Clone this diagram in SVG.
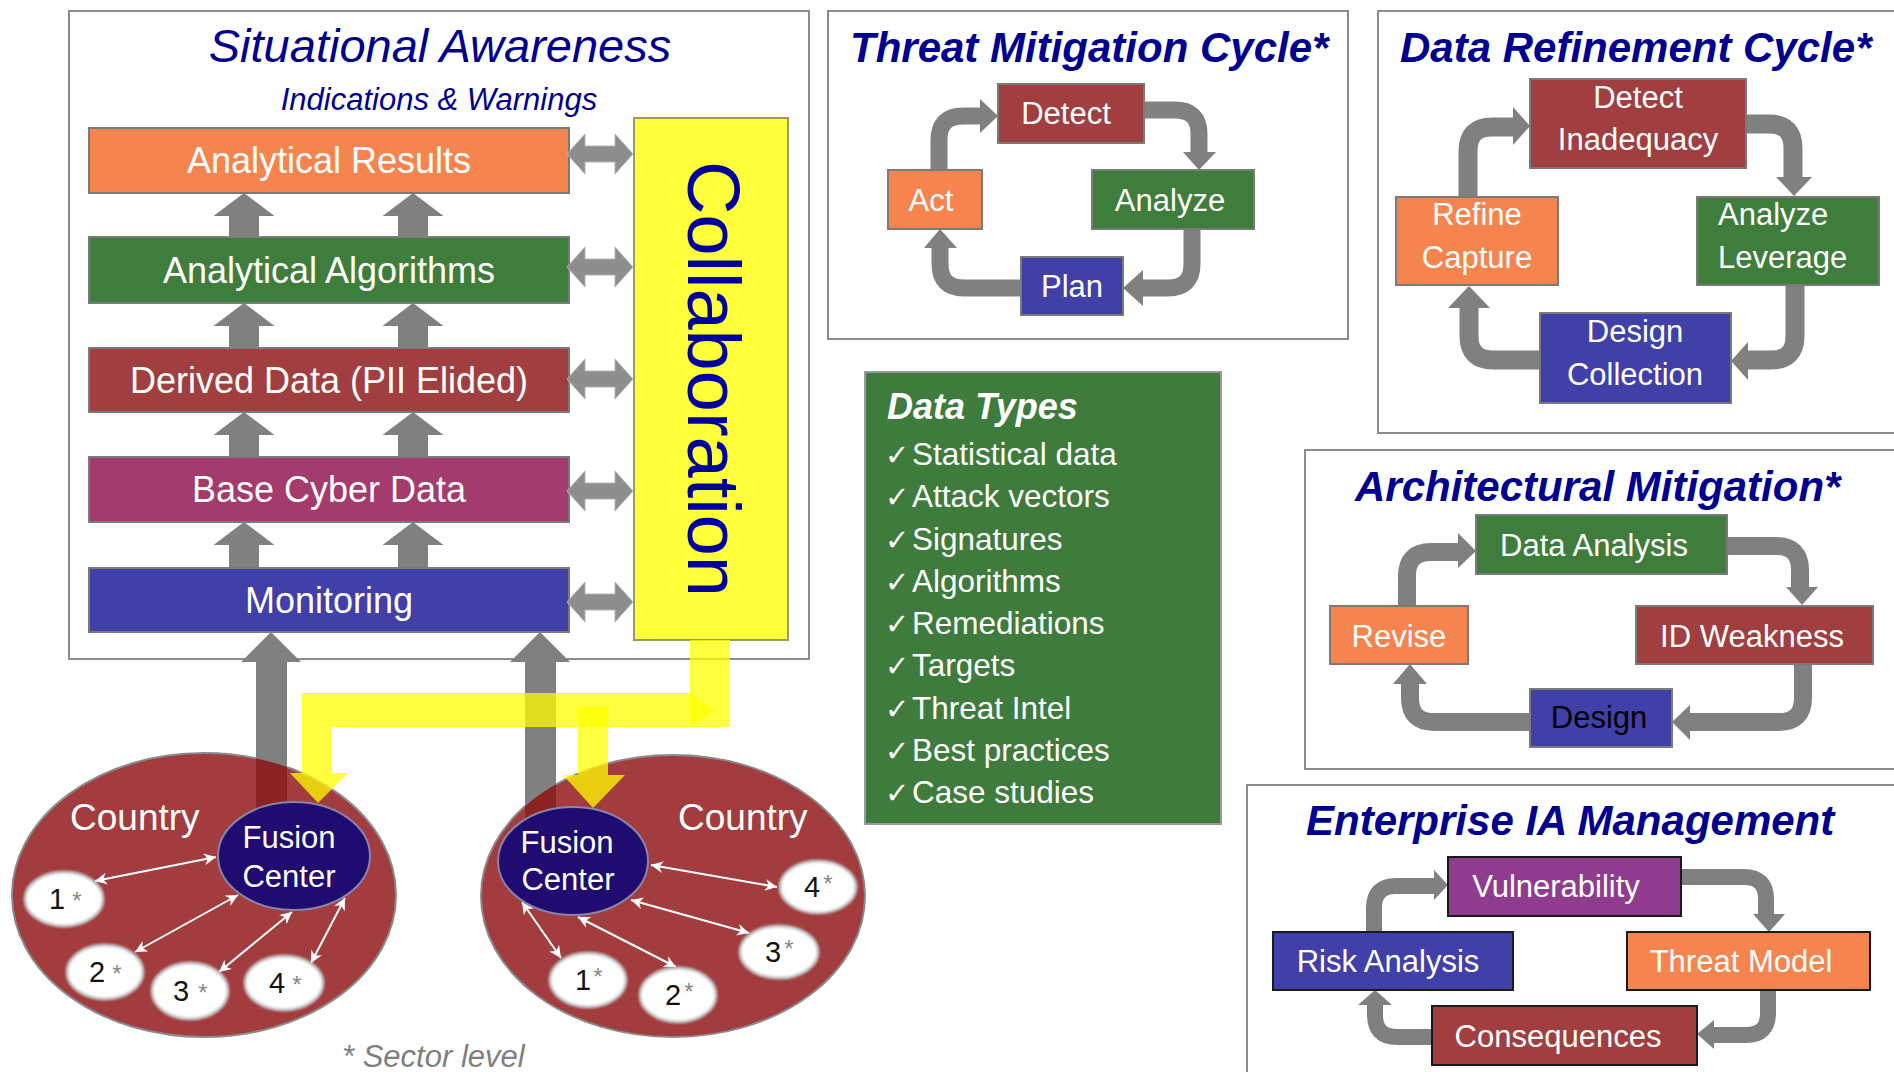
<svg xmlns="http://www.w3.org/2000/svg" width="1894" height="1072" viewBox="0 0 1894 1072">
<style>
text{font-family:"Liberation Sans",Arial,sans-serif}
.panel{fill:#fff;stroke:#8c8c8c;stroke-width:2}
.ttl{font-weight:bold;font-style:italic;font-size:42px;fill:#000090}
.box{stroke:#7a7a7a;stroke-width:2}
.bx2{stroke:#1a1a1a;stroke-width:2}
.lbl{fill:#fff;font-size:31px;text-anchor:middle}
.lbs{fill:#fff;font-size:31px;text-anchor:start}
.lyr{fill:#fff;font-size:36px;text-anchor:middle}
.or{fill:#F5844F}.gr{fill:#3F7D3C}.rd{fill:#A13F40}.mg{fill:#A33B6D}.bl{fill:#4040A8}.pu{fill:#8F3C8E}
.ca{fill:none;stroke:#808080;stroke-width:17}
.ah{fill:#808080}
.dbl{fill:#8e8e8e;stroke:#b4b4b4;stroke-width:1}
.wl{stroke:#fff;stroke-width:2;fill:none;marker-start:url(#wa);marker-end:url(#wa)}
.sn{fill:#fff;stroke:#c4c4c4;stroke-width:3}
.num{font-size:29px;fill:#111;text-anchor:middle}
.ast{font-size:24px;fill:#888;text-anchor:middle}
.yl{fill:#FFFF00;fill-opacity:0.75}
.dt{fill:#fff;font-size:31.5px}
.chk{font-family:"DejaVu Sans",sans-serif;font-size:29px}
.cty{fill:#fff;font-size:37px}
.fc{fill:#fff;font-size:31px;text-anchor:middle}
</style>
<defs>
<path id="ua" d="M0,0 L30.5,23 L15,23 L15,45 L-15,45 L-15,23 L-30.5,23 Z"/>
<path id="da" d="M0,0 L18,-20 L18,-8 L48,-8 L48,-20 L66,0 L48,20 L48,8 L18,8 L18,20 Z"/>
<marker id="wa" viewBox="0 0 10 10" refX="10" refY="5" markerWidth="6" markerHeight="6" orient="auto-start-reverse" markerUnits="strokeWidth">
<path d="M0,0 L10,5 L0,10 L3,5 Z" fill="#fff"/>
</marker>
<clipPath id="cL"><ellipse cx="204" cy="895" rx="192" ry="142"/></clipPath>
<clipPath id="cR"><ellipse cx="673" cy="896" rx="192" ry="141"/></clipPath>
<filter id="soft" x="-20%" y="-20%" width="140%" height="140%"><feGaussianBlur stdDeviation="1.2"/></filter>
</defs>

<!-- Situational Awareness panel -->
<g id="sa-panel">
<rect class="panel" x="69" y="11" width="740" height="648"/>
<text x="440" y="62" font-size="47" font-style="italic" fill="#000090" text-anchor="middle">Situational Awareness</text>
<text x="439" y="110" font-size="31" font-style="italic" fill="#000090" text-anchor="middle">Indications &amp; Warnings</text>
</g>
<g id="analytical-results"><rect class="box or" x="89" y="128" width="480" height="65"/><text class="lyr" x="329" y="173">Analytical Results</text></g>
<g id="analytical-algorithms"><rect class="box gr" x="89" y="237" width="480" height="66"/><text class="lyr" x="329" y="283">Analytical Algorithms</text></g>
<g id="derived-data"><rect class="box rd" x="89" y="348" width="480" height="64"/><text class="lyr" x="329" y="393">Derived Data (PII Elided)</text></g>
<g id="base-cyber-data"><rect class="box mg" x="89" y="457" width="480" height="65"/><text class="lyr" x="329" y="502">Base Cyber Data</text></g>
<g id="monitoring"><rect class="box bl" x="89" y="568" width="480" height="64"/><text class="lyr" x="329" y="613">Monitoring</text></g>
<g id="collaboration"><rect x="634" y="118" width="154" height="522" fill="#FFFF3C" stroke="#9a9a60" stroke-width="2"/>
<text transform="translate(688,379) rotate(90)" font-size="74" fill="#00009A" text-anchor="middle">Collaboration</text></g>

<g id="sa-connectors" fill="#808080">
<use href="#ua" x="244" y="193"/><use href="#ua" x="413" y="193"/>
<use href="#ua" x="244" y="303"/><use href="#ua" x="413" y="303"/>
<use href="#ua" x="244" y="412"/><use href="#ua" x="413" y="412"/>
<use href="#ua" x="244" y="522"/><use href="#ua" x="413" y="522"/>
<use class="dbl" href="#da" x="567" y="154"/>
<use class="dbl" href="#da" x="567" y="267"/>
<use class="dbl" href="#da" x="567" y="379"/>
<use class="dbl" href="#da" x="567" y="491"/>
<use class="dbl" href="#da" x="567" y="602"/>
</g>

<!-- Countries -->
<g id="country-left"><ellipse cx="204" cy="895" rx="192" ry="142" fill="#A23C3E" stroke="#8a8a8a" stroke-width="2"/></g>
<g id="country-right"><ellipse cx="673" cy="896" rx="192" ry="141" fill="#A23C3E" stroke="#8a8a8a" stroke-width="2"/></g>

<g id="country-connectors">
<path fill="#808080" d="M271,632 L301,662 L287,662 L287,830 L256,830 L256,662 L241,662 Z"/>
<path fill="#808080" d="M540,632 L570,662 L556,662 L556,830 L525,830 L525,662 L510,662 Z"/>
<rect x="256" y="700" width="31" height="130" fill="#8B2323" clip-path="url(#cL)"/>
<rect x="525" y="700" width="31" height="130" fill="#8B2323" clip-path="url(#cR)"/>
<rect class="yl" x="690" y="640" width="40" height="87"/>
<path class="yl" d="M302,693 H690 L715,710 L690,727 H332 V773 H348 L318,803 L290,773 H302 Z"/>
<path class="yl" d="M578,707 H608 V775 H625 L593,808 L563,775 H578 Z"/>
<line class="wl" x1="95" y1="881" x2="216" y2="857"/>
<line class="wl" x1="135" y1="952" x2="238" y2="895"/>
<line class="wl" x1="219" y1="972" x2="292" y2="912"/>
<line class="wl" x1="311" y1="963" x2="345" y2="898"/>
<line class="wl" x1="651" y1="865" x2="777" y2="887"/>
<line class="wl" x1="631" y1="900" x2="749" y2="933"/>
<line class="wl" x1="578" y1="917" x2="676" y2="967"/>
<line class="wl" x1="522" y1="902" x2="561" y2="958"/>
</g>

<g id="country-left-label"><text class="cty" x="70" y="830">Country</text></g>
<g id="country-right-label"><text class="cty" x="678" y="830">Country</text></g>
<g id="fusion-left"><ellipse cx="294" cy="856" rx="76" ry="54" fill="#200C70" stroke="#8a84a8" stroke-width="2"/>
<text class="fc" x="289" y="848">Fusion</text><text class="fc" x="289" y="887">Center</text></g>
<g id="fusion-right"><ellipse cx="573" cy="861" rx="75" ry="54" fill="#200C70" stroke="#8a84a8" stroke-width="2"/>
<text class="fc" x="567" y="853">Fusion</text><text class="fc" x="568" y="890">Center</text></g>

<g id="sector-l1"><ellipse class="sn" cx="64" cy="899" rx="39" ry="27" filter="url(#soft)"/><text class="num" x="57" y="909">1</text><text class="ast" x="77" y="909">*</text></g>
<g id="sector-l2"><ellipse class="sn" cx="105" cy="972" rx="38" ry="27" filter="url(#soft)"/><text class="num" x="97" y="982">2</text><text class="ast" x="117" y="982">*</text></g>
<g id="sector-l3"><ellipse class="sn" cx="190" cy="991" rx="38" ry="28" filter="url(#soft)"/><text class="num" x="181" y="1001">3</text><text class="ast" x="203" y="1001">*</text></g>
<g id="sector-l4"><ellipse class="sn" cx="284" cy="983" rx="39" ry="27" filter="url(#soft)"/><text class="num" x="277" y="993">4</text><text class="ast" x="297" y="993">*</text></g>
<g id="sector-r4"><ellipse class="sn" cx="818" cy="887" rx="38" ry="26" filter="url(#soft)"/><text class="num" x="812" y="897">4</text><text class="ast" x="828" y="892">*</text></g>
<g id="sector-r3"><ellipse class="sn" cx="779" cy="952" rx="39" ry="26" filter="url(#soft)"/><text class="num" x="773" y="962">3</text><text class="ast" x="789" y="957">*</text></g>
<g id="sector-r1"><ellipse class="sn" cx="588" cy="980" rx="38" ry="27" filter="url(#soft)"/><text class="num" x="583" y="990">1</text><text class="ast" x="598" y="985">*</text></g>
<g id="sector-r2"><ellipse class="sn" cx="678" cy="995" rx="38" ry="27" filter="url(#soft)"/><text class="num" x="673" y="1005">2</text><text class="ast" x="689" y="1000">*</text></g>
<text x="342" y="1067" font-size="31" font-style="italic" fill="#7f7f7f">* Sector level</text>

<!-- Threat Mitigation Cycle -->
<g id="tmc-panel"><rect class="panel" x="828" y="11" width="520" height="328"/>
<text class="ttl" x="850" y="62">Threat Mitigation Cycle*</text></g>
<g id="tmc-connectors">
<path class="ca" d="M939,170 V140 Q939,116 963,116 H981"/><path class="ah" d="M980,99 L998,116 L980,133 Z"/>
<path class="ca" d="M1144,110 H1175 Q1199,110 1199,134 V153"/><path class="ah" d="M1183,152 L1216,152 L1199,170 Z"/>
<path class="ca" d="M1192,229 V264 Q1192,288 1168,288 H1142"/><path class="ah" d="M1143,270 L1143,306 L1123,288 Z"/>
<path class="ca" d="M1021,288 H964 Q940,288 940,264 V247"/><path class="ah" d="M924,248 L957,248 L940,229 Z"/>
</g>
<g id="tmc-detect"><rect class="box rd" x="998" y="84" width="146" height="59"/><text class="lbl" x="1066" y="124">Detect</text></g>
<g id="tmc-analyze"><rect class="box gr" x="1092" y="170" width="162" height="59"/><text class="lbl" x="1170" y="211">Analyze</text></g>
<g id="tmc-act"><rect class="box or" x="888" y="170" width="94" height="59"/><text class="lbl" x="931" y="211">Act</text></g>
<g id="tmc-plan"><rect class="box bl" x="1021" y="257" width="102" height="58"/><text class="lbl" x="1072" y="297">Plan</text></g>

<!-- Data Refinement Cycle -->
<g id="drc-panel"><rect class="panel" x="1378" y="11" width="530" height="422"/>
<text class="ttl" x="1400" y="62">Data Refinement Cycle*</text></g>
<g id="drc-connectors">
<path class="ca" style="stroke-width:19" d="M1468,197 V151 Q1468,127 1492,127 H1514"/><path class="ah" d="M1513,107 L1530,126 L1513,145 Z"/>
<path class="ca" style="stroke-width:19" d="M1746,124 H1769 Q1793,124 1793,148 V178"/><path class="ah" d="M1776,177 L1812,177 L1794,196 Z"/>
<path class="ca" style="stroke-width:19" d="M1795,285 V336 Q1795,360 1771,360 H1747"/><path class="ah" d="M1748,342 L1748,380 L1731,361 Z"/>
<path class="ca" style="stroke-width:19" d="M1540,360 H1493 Q1469,360 1469,336 V307"/><path class="ah" d="M1448,308 L1490,308 L1469,286 Z"/>
</g>
<g id="drc-detect"><rect class="box rd" x="1530" y="79" width="216" height="89"/><text class="lbl" x="1638" y="108">Detect</text><text class="lbl" x="1638" y="150">Inadequacy</text></g>
<g id="drc-analyze"><rect class="box gr" x="1697" y="197" width="182" height="88"/><text class="lbs" x="1718" y="225">Analyze</text><text class="lbs" x="1718" y="268">Leverage</text></g>
<g id="drc-refine"><rect class="box or" x="1396" y="197" width="162" height="88"/><text class="lbl" x="1477" y="225">Refine</text><text class="lbl" x="1477" y="268">Capture</text></g>
<g id="drc-design"><rect class="box bl" x="1540" y="313" width="191" height="90"/><text class="lbl" x="1635" y="342">Design</text><text class="lbl" x="1635" y="385">Collection</text></g>

<!-- Data Types -->
<g id="data-types">
<rect x="865" y="372" width="356" height="452" fill="#3E7B3C" stroke="#9a9a9a" stroke-width="2"/>
<text x="887" y="419" font-size="36" font-weight="bold" font-style="italic" fill="#fff">Data Types</text>
<text class="dt" x="885" y="465"><tspan class="chk">✓</tspan><tspan x="912">Statistical data</tspan></text>
<text class="dt" x="885" y="507"><tspan class="chk">✓</tspan><tspan x="912">Attack vectors</tspan></text>
<text class="dt" x="885" y="550"><tspan class="chk">✓</tspan><tspan x="912">Signatures</tspan></text>
<text class="dt" x="885" y="592"><tspan class="chk">✓</tspan><tspan x="912">Algorithms</tspan></text>
<text class="dt" x="885" y="634"><tspan class="chk">✓</tspan><tspan x="912">Remediations</tspan></text>
<text class="dt" x="885" y="676"><tspan class="chk">✓</tspan><tspan x="912">Targets</tspan></text>
<text class="dt" x="885" y="719"><tspan class="chk">✓</tspan><tspan x="912">Threat Intel</tspan></text>
<text class="dt" x="885" y="761"><tspan class="chk">✓</tspan><tspan x="912">Best practices</tspan></text>
<text class="dt" x="885" y="803"><tspan class="chk">✓</tspan><tspan x="912">Case studies</tspan></text>
</g>

<!-- Architectural Mitigation -->
<g id="am-panel"><rect class="panel" x="1305" y="450" width="600" height="319"/>
<text class="ttl" x="1355" y="501">Architectural Mitigation*</text></g>
<g id="am-connectors">
<path class="ca" style="stroke-width:18" d="M1407,606 V576 Q1407,552 1431,552 H1459"/><path class="ah" d="M1458,533 L1476,551 L1458,568 Z"/>
<path class="ca" style="stroke-width:18" d="M1727,546 H1776 Q1800,546 1800,570 V588"/><path class="ah" d="M1786,587 L1818,587 L1802,605 Z"/>
<path class="ca" style="stroke-width:18" d="M1803,664 V698 Q1803,722 1779,722 H1689"/><path class="ah" d="M1690,705 L1690,740 L1672,722 Z"/>
<path class="ca" style="stroke-width:18" d="M1530,722 H1434 Q1410,722 1410,698 V683"/><path class="ah" d="M1393,684 L1427,684 L1410,664 Z"/>
</g>
<g id="am-data-analysis"><rect class="box gr" x="1476" y="515" width="251" height="59"/><text class="lbl" x="1594" y="556">Data Analysis</text></g>
<g id="am-id-weakness"><rect class="box rd" x="1636" y="606" width="237" height="58"/><text class="lbl" x="1752" y="647">ID Weakness</text></g>
<g id="am-revise"><rect class="box or" x="1330" y="606" width="138" height="58"/><text class="lbl" x="1399" y="647">Revise</text></g>
<g id="am-design"><rect class="box bl" x="1530" y="689" width="142" height="58"/><text class="lbl" x="1599" y="728" style="fill:#000">Design</text></g>

<!-- Enterprise IA Management -->
<g id="eim-panel"><rect class="panel" x="1247" y="785" width="660" height="300"/>
<text class="ttl" x="1306" y="835">Enterprise IA Management</text></g>
<g id="eim-connectors">
<path class="ca" style="stroke-width:16" d="M1374,932 V908 Q1374,886 1396,886 H1435"/><path class="ah" d="M1434,870 L1448,885 L1434,900 Z"/>
<path class="ca" style="stroke-width:16" d="M1681,877 H1744 Q1766,877 1766,899 V915"/><path class="ah" d="M1753,914 L1785,914 L1769,932 Z"/>
<path class="ca" style="stroke-width:16" d="M1768,990 V1013 Q1768,1035 1746,1035 H1713"/><path class="ah" d="M1714,1020 L1714,1049 L1697,1034 Z"/>
<path class="ca" style="stroke-width:16" d="M1432,1037 H1397 Q1375,1037 1375,1015 V1004"/><path class="ah" d="M1358,1005 L1392,1005 L1375,990 Z"/>
</g>
<g id="eim-vulnerability"><rect class="bx2 pu" x="1448" y="857" width="233" height="59"/><text class="lbl" x="1556" y="897">Vulnerability</text></g>
<g id="eim-risk-analysis"><rect class="bx2 bl" x="1273" y="932" width="240" height="58"/><text class="lbl" x="1388" y="972">Risk Analysis</text></g>
<g id="eim-threat-model"><rect class="bx2 or" x="1627" y="932" width="243" height="58"/><text class="lbl" x="1741" y="972">Threat Model</text></g>
<g id="eim-consequences"><rect class="bx2 rd" x="1432" y="1006" width="265" height="59"/><text class="lbl" x="1558" y="1047">Consequences</text></g>
</svg>
